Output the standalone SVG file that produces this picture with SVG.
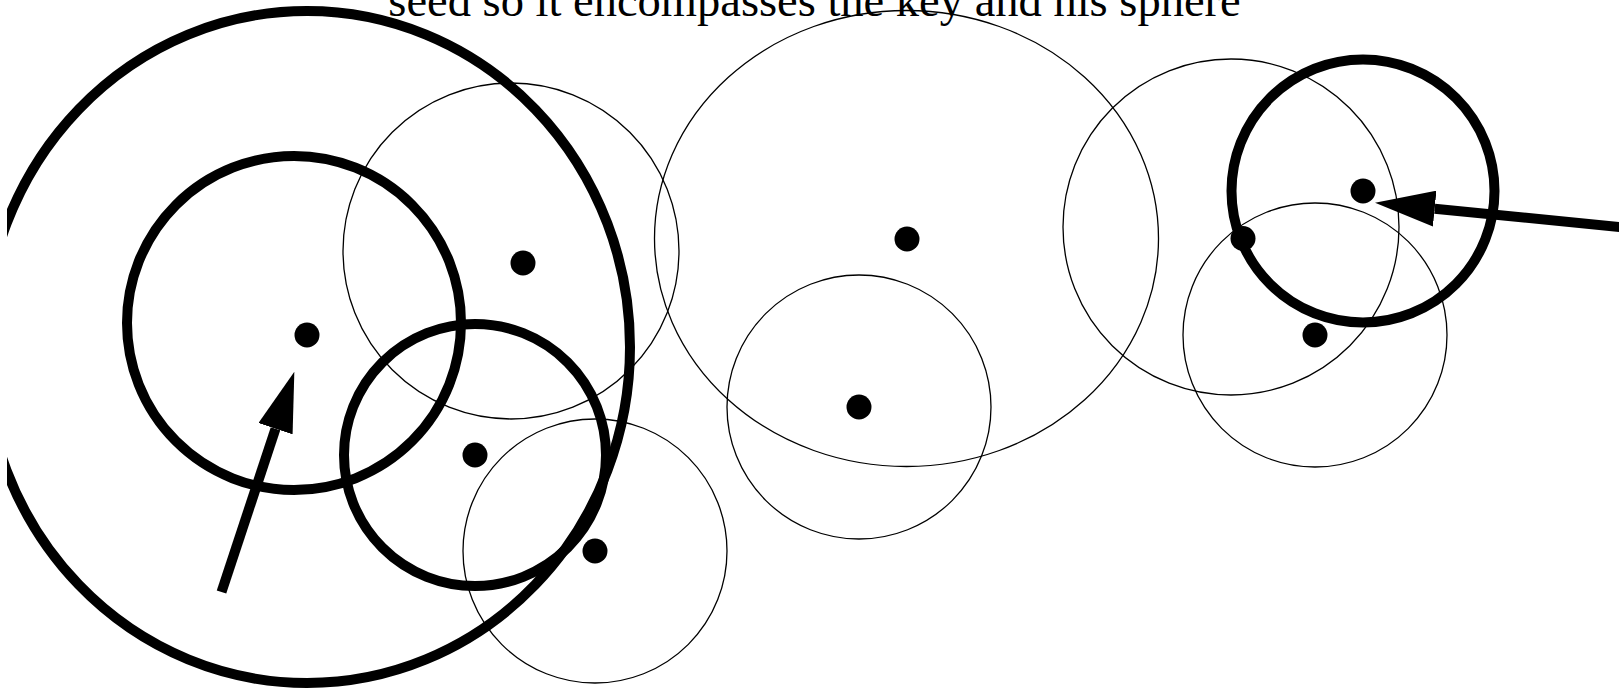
<svg xmlns="http://www.w3.org/2000/svg" width="1619" height="689" viewBox="0 0 1619 689">
<style>
.thin{fill:none;stroke:#000;stroke-width:1.3}
.thick{fill:none;stroke:#000;stroke-width:10}
.dot{fill:#000}
.arrow{fill:none;stroke:#000;stroke-width:10;stroke-linecap:butt}
.title{font-family:"Liberation Serif","Times New Roman",serif;font-size:46.5px;fill:#000}
</style>
<defs>
<clipPath id="clip"><rect x="7" y="0" width="1612" height="689"/></clipPath>
<marker id="head" markerUnits="userSpaceOnUse" viewBox="0 0 60 36" refX="0" refY="18" markerWidth="60" markerHeight="36" orient="auto">
<path d="M0,0 L60,18 L0,36 z" fill="#000"/>
</marker>
</defs>
<rect width="1619" height="689" fill="#fff"/>
<text class="title" x="814.5" y="15.5" text-anchor="middle">seed so it encompasses the key and his sphere</text>
<g clip-path="url(#clip)">
<g id="big-sphere"><ellipse class="thick" cx="307" cy="347" rx="323" ry="336"/></g>
<g id="sphere-left"><circle class="thick" cx="294" cy="323" r="167"/><circle class="dot" cx="307" cy="335" r="12.5"/></g>
<g id="sphere-upper-mid"><circle class="thin" cx="511" cy="251" r="168"/><circle class="dot" cx="523" cy="263" r="12.5"/></g>
<g id="sphere-mid"><circle class="thick" cx="475" cy="455" r="131"/><circle class="dot" cx="475" cy="455" r="12.5"/></g>
<g id="sphere-bottom"><circle class="thin" cx="595" cy="551" r="132"/><circle class="dot" cx="595" cy="551" r="12.5"/></g>
<g id="sphere-center"><ellipse class="thin" cx="906.5" cy="238.5" rx="252" ry="228"/><circle class="dot" cx="907" cy="239" r="12.5"/></g>
<g id="sphere-center-low"><circle class="thin" cx="859" cy="407" r="132"/><circle class="dot" cx="859" cy="407" r="12.5"/></g>
<g id="sphere-right-upper"><circle class="thin" cx="1231" cy="227" r="168"/><circle class="dot" cx="1243" cy="238.5" r="12.5"/></g>
<g id="sphere-right-lower"><circle class="thin" cx="1315" cy="335" r="132"/><circle class="dot" cx="1315" cy="335" r="12.5"/></g>
<g id="sphere-right-key"><circle class="thick" cx="1363" cy="191" r="131.5"/><circle class="dot" cx="1363" cy="191" r="12.5"/></g>
<g id="connectors">
<line class="arrow" x1="221.5" y1="592" x2="275.5" y2="428.7" marker-end="url(#head)"/>
<line class="arrow" x1="1625" y1="227.6" x2="1434.7" y2="208.65" marker-end="url(#head)"/>
</g>
</g>
</svg>
